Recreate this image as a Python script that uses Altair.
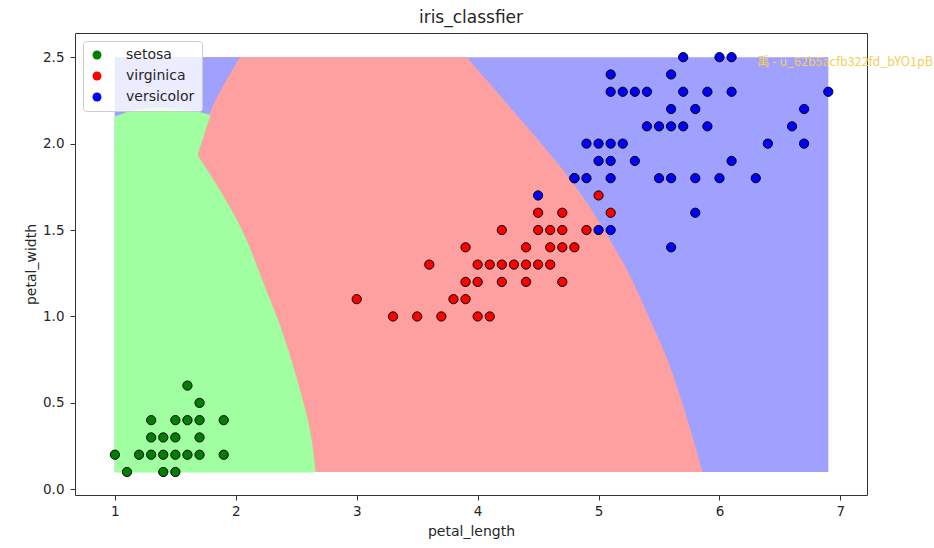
import altair as alt
import pandas as pd

# ---------------- data ----------------
CLASSES = ["setosa", "virginica", "versicolor"]
POINT_COLORS = ["#008000", "#ff0000", "#0000ff"]
REGION_GREEN = "#a0ffa0"
REGION_RED = "#ffa0a0"
REGION_BLUE = "#a0a0ff"

# extent of the decision-region mesh
mesh_x = [1.0, 6.9]
mesh_y = [0.1, 2.5]

# right edge of the red region (red | blue boundary), bottom -> top
red_edge_y = [0.1, 0.48, 0.75, 1.02, 1.25, 1.46, 1.63, 1.79, 1.98, 2.16, 2.33, 2.5]
red_edge_x = [5.86, 5.70, 5.57, 5.40, 5.25, 5.08, 4.93, 4.77, 4.55, 4.33, 4.12, 3.91]

# top-left blue wedge: right edge (blue | red boundary)
wedge_y = [1.932, 2.176, 2.5]
wedge_x = [1.687, 1.786, 2.035]

# green region, lower (elliptic) part: right edge by petal_width
green_low_y = [0.1, 0.325, 0.632, 0.94, 1.188, 1.518, 1.788, 1.933]
green_low_xr = [2.656, 2.614, 2.504, 2.366, 2.228, 2.035, 1.814, 1.681]

# green region, upper (dome) part: left and right edges by petal_width
green_top_y = [1.933, 2.154, 2.164, 2.180, 2.197, 2.204]
green_top_xl = [1.0, 1.0, 1.04, 1.10, 1.20, 1.33]
green_top_xr = [1.681, 1.781, 1.786, 1.70, 1.55, 1.42]

# scatter points
setosa_x = [1.6, 1.7, 1.3, 1.5, 1.6, 1.7, 1.9, 1.3, 1.4, 1.5, 1.7, 1.0, 1.2, 1.3, 1.4, 1.5, 1.6, 1.7, 1.9, 1.1, 1.4, 1.5]
setosa_y = [0.6, 0.5, 0.4, 0.4, 0.4, 0.4, 0.4, 0.3, 0.3, 0.3, 0.3, 0.2, 0.2, 0.2, 0.2, 0.2, 0.2, 0.2, 0.2, 0.1, 0.1, 0.1]

virginica_x = [5.0, 4.5, 4.7, 5.1, 4.2, 4.5, 4.6, 4.7, 4.9, 3.9, 4.4, 4.6, 4.7, 4.8,
               3.6, 4.0, 4.1, 4.2, 4.3, 4.4, 4.5, 4.6, 3.9, 4.0, 4.2, 4.4, 4.7,
               3.0, 3.8, 3.9, 3.3, 3.5, 3.7, 4.0, 4.1, 4.8]
virginica_y = [1.7, 1.6, 1.6, 1.6, 1.5, 1.5, 1.5, 1.5, 1.5, 1.4, 1.4, 1.4, 1.4, 1.4,
               1.3, 1.3, 1.3, 1.3, 1.3, 1.3, 1.3, 1.3, 1.2, 1.2, 1.2, 1.2, 1.2,
               1.1, 1.1, 1.1, 1.0, 1.0, 1.0, 1.0, 1.0, 1.8]

versicolor_x = [5.7, 6.0, 6.1, 5.1, 5.6, 5.1, 5.2, 5.3, 5.4, 5.7, 5.9, 6.1, 6.9,
                5.6, 5.8, 6.7, 5.4, 5.5, 5.6, 5.7, 5.9, 6.6, 4.9, 5.0, 5.1, 5.2, 6.4, 6.7,
                5.0, 5.1, 5.3, 6.1, 4.8, 4.9, 5.1, 5.5, 5.6, 5.8, 6.0, 6.3,
                4.5, 5.8, 5.0, 5.1, 5.6]
versicolor_y = [2.5, 2.5, 2.5, 2.4, 2.4, 2.3, 2.3, 2.3, 2.3, 2.3, 2.3, 2.3, 2.3,
                2.2, 2.2, 2.2, 2.1, 2.1, 2.1, 2.1, 2.1, 2.1, 2.0, 2.0, 2.0, 2.0, 2.0, 2.0,
                1.9, 1.9, 1.9, 1.9, 1.8, 1.8, 1.8, 1.8, 1.8, 1.8, 1.8, 1.8,
                1.7, 1.6, 1.5, 1.5, 1.4]

x_ticks = [1, 2, 3, 4, 5, 6, 7]
y_ticks = [0.0, 0.5, 1.0, 1.5, 2.0, 2.5]
x_domain = [0.67, 7.22]
y_domain = [-0.033, 2.64]

TITLE = "iris_classfier"
X_TITLE = "petal_length"
Y_TITLE = "petal_width"
WATERMARK = "禹 - u_62b5acfb322fd_bYO1pB"

# ---------------- tables ----------------
bg_df = pd.DataFrame({"x": [mesh_x[0]], "x2": [mesh_x[1]], "y": [mesh_y[0]], "y2": [mesh_y[1]]})
red_df = pd.DataFrame({"y": red_edge_y, "x": red_edge_x, "xl": [mesh_x[0]] * len(red_edge_y)})
wedge_df = pd.DataFrame({"y": wedge_y, "x": wedge_x, "xl": [mesh_x[0]] * len(wedge_y)})
green_low_df = pd.DataFrame({"y": green_low_y, "x": green_low_xr, "xl": [mesh_x[0]] * len(green_low_y)})
green_top_df = pd.DataFrame({"y": green_top_y, "x": green_top_xr, "xl": green_top_xl})

pts = pd.concat([
    pd.DataFrame({"x": setosa_x, "y": setosa_y, "label": "setosa"}),
    pd.DataFrame({"x": virginica_x, "y": virginica_y, "label": "virginica"}),
    pd.DataFrame({"x": versicolor_x, "y": versicolor_y, "label": "versicolor"}),
], ignore_index=True)

xscale = alt.Scale(domain=x_domain, nice=False, zero=False)
yscale = alt.Scale(domain=y_domain, nice=False, zero=False)
xaxis = alt.Axis(values=x_ticks, format="d", title=X_TITLE, titlePadding=7)
yaxis = alt.Axis(values=y_ticks, format=".1f", title=Y_TITLE, titlePadding=4)


def X(field="x"):
    return alt.X(f"{field}:Q", scale=xscale, axis=xaxis, stack=None)


def Y(field="y"):
    return alt.Y(f"{field}:Q", scale=yscale, axis=yaxis, stack=None)


def region(df, color, interp="linear", stroke=False):
    props = dict(orient="horizontal", color=color, opacity=1, interpolate=interp)
    if stroke:
        props.update(stroke=color, strokeWidth=1)
    return alt.Chart(df).mark_area(**props).encode(y=Y(), x=X(), x2="xl:Q")


blue_bg = alt.Chart(bg_df).mark_rect(color=REGION_BLUE).encode(
    x=X(), x2="x2:Q", y=Y(), y2="y2:Q"
)
red_area = region(red_df, REGION_RED, "monotone")
wedge_area = region(wedge_df, REGION_BLUE, "monotone")
green_low = region(green_low_df, REGION_GREEN, "monotone", stroke=True)
green_top = region(green_top_df, REGION_GREEN, "linear", stroke=True)

points = alt.Chart(pts).mark_circle(size=85, stroke="black", strokeWidth=1, opacity=1).encode(
    x=X(), y=Y(),
    color=alt.Color("label:N", scale=alt.Scale(domain=CLASSES, range=POINT_COLORS),
                    legend=alt.Legend(title=None)),
)

wm = alt.Chart(pd.DataFrame({"t": [WATERMARK]})).mark_text(
    align="left", baseline="middle", font="Noto Sans CJK SC", fontSize=12.5, color="#f2cf5b"
).encode(text="t:N", x=alt.value(682), y=alt.value(29))

chart = alt.layer(blue_bg, red_area, wedge_area, green_low, green_top, points, wm).properties(
    width=792, height=462,
    title=TITLE,
    autosize=alt.AutoSizeParams(type="none"),
    padding={"left": 75, "top": 33, "right": 67, "bottom": 53},
    background="white",
).configure_view(
    stroke="#333333", strokeWidth=1
).configure_axis(
    domain=False, grid=False, tickColor="#333333", tickSize=5, tickWidth=1,
    labelFont="DejaVu Sans", labelFontSize=13.5, labelColor="#262626", labelPadding=4,
    titleFont="DejaVu Sans", titleFontSize=14, titleFontWeight="normal", titleColor="#262626",
).configure_axisY(labelPadding=6).configure_title(
    font="DejaVu Sans", fontSize=17, fontWeight="normal", color="#262626", offset=6, anchor="middle"
).configure_legend(
    orient="top-left", offset=8, padding=7, fillColor="rgba(255,255,255,0.8)",
    strokeColor="#cccccc", cornerRadius=3,
    labelFont="DejaVu Sans", labelFontSize=14, labelColor="#262626",
    symbolSize=80, symbolStrokeWidth=0, symbolType="circle", rowPadding=7, labelOffset=22,
)

chart.save("out.html", embed_options={"renderer": "svg", "actions": False})
